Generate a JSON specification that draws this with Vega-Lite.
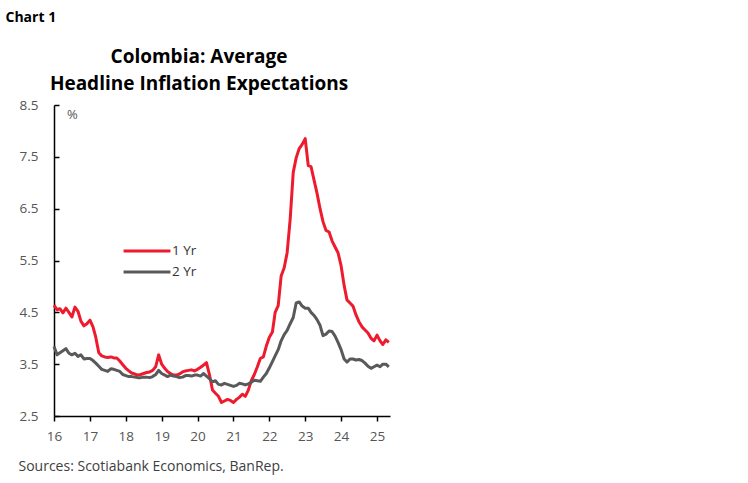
{
  "$schema": "https://vega.github.io/schema/vega-lite/v6.json",
  "autosize": "none",
  "width": 336,
  "height": 311,
  "padding": {"left": 54, "top": 105, "right": 358, "bottom": 67},
  "background": "white",
  "title": {
    "text": ["Colombia: Average", "Headline Inflation Expectations"],
    "anchor": "middle",
    "frame": "group",
    "font": "Open Sans",
    "fontSize": 19,
    "fontWeight": "bold",
    "color": "#000000",
    "lineHeight": 27,
    "offset": 8,
    "dy": 92,
    "dx": -23
  },
  "config": {
    "view": {"stroke": null},
    "axis": {"grid": false, "labelFont": "Open Sans", "labelFontSize": 13.5, "labelColor": "#555555", "domainColor": "#000000", "domainWidth": 1.5, "tickColor": "#000000", "tickWidth": 1.5}
  },
  "data": {
    "values": [
      {"date": "2016-01-01", "1 Yr": 4.64, "2 Yr": 3.84},
      {"date": "2016-02-01", "1 Yr": 4.55, "2 Yr": 3.68},
      {"date": "2016-03-01", "1 Yr": 4.57, "2 Yr": 3.72},
      {"date": "2016-04-01", "1 Yr": 4.49, "2 Yr": 3.76},
      {"date": "2016-05-01", "1 Yr": 4.58, "2 Yr": 3.80},
      {"date": "2016-06-01", "1 Yr": 4.50, "2 Yr": 3.71},
      {"date": "2016-07-01", "1 Yr": 4.41, "2 Yr": 3.68},
      {"date": "2016-08-01", "1 Yr": 4.60, "2 Yr": 3.71},
      {"date": "2016-09-01", "1 Yr": 4.52, "2 Yr": 3.65},
      {"date": "2016-10-01", "1 Yr": 4.33, "2 Yr": 3.68},
      {"date": "2016-11-01", "1 Yr": 4.24, "2 Yr": 3.60},
      {"date": "2016-12-01", "1 Yr": 4.28, "2 Yr": 3.61},
      {"date": "2017-01-01", "1 Yr": 4.35, "2 Yr": 3.61},
      {"date": "2017-02-01", "1 Yr": 4.22, "2 Yr": 3.57},
      {"date": "2017-03-01", "1 Yr": 4.02, "2 Yr": 3.52},
      {"date": "2017-04-01", "1 Yr": 3.72, "2 Yr": 3.46},
      {"date": "2017-05-01", "1 Yr": 3.66, "2 Yr": 3.40},
      {"date": "2017-06-01", "1 Yr": 3.64, "2 Yr": 3.38},
      {"date": "2017-07-01", "1 Yr": 3.63, "2 Yr": 3.36},
      {"date": "2017-08-01", "1 Yr": 3.64, "2 Yr": 3.41},
      {"date": "2017-09-01", "1 Yr": 3.62, "2 Yr": 3.40},
      {"date": "2017-10-01", "1 Yr": 3.62, "2 Yr": 3.38},
      {"date": "2017-11-01", "1 Yr": 3.56, "2 Yr": 3.36},
      {"date": "2017-12-01", "1 Yr": 3.49, "2 Yr": 3.30},
      {"date": "2018-01-01", "1 Yr": 3.42, "2 Yr": 3.28},
      {"date": "2018-02-01", "1 Yr": 3.37, "2 Yr": 3.26},
      {"date": "2018-03-01", "1 Yr": 3.33, "2 Yr": 3.26},
      {"date": "2018-04-01", "1 Yr": 3.31, "2 Yr": 3.25},
      {"date": "2018-05-01", "1 Yr": 3.29, "2 Yr": 3.24},
      {"date": "2018-06-01", "1 Yr": 3.30, "2 Yr": 3.24},
      {"date": "2018-07-01", "1 Yr": 3.32, "2 Yr": 3.25},
      {"date": "2018-08-01", "1 Yr": 3.34, "2 Yr": 3.25},
      {"date": "2018-09-01", "1 Yr": 3.35, "2 Yr": 3.24},
      {"date": "2018-10-01", "1 Yr": 3.38, "2 Yr": 3.26},
      {"date": "2018-11-01", "1 Yr": 3.45, "2 Yr": 3.30},
      {"date": "2018-12-01", "1 Yr": 3.68, "2 Yr": 3.38},
      {"date": "2019-01-01", "1 Yr": 3.50, "2 Yr": 3.32},
      {"date": "2019-02-01", "1 Yr": 3.42, "2 Yr": 3.29},
      {"date": "2019-03-01", "1 Yr": 3.36, "2 Yr": 3.26},
      {"date": "2019-04-01", "1 Yr": 3.32, "2 Yr": 3.29},
      {"date": "2019-05-01", "1 Yr": 3.29, "2 Yr": 3.27},
      {"date": "2019-06-01", "1 Yr": 3.29, "2 Yr": 3.26},
      {"date": "2019-07-01", "1 Yr": 3.31, "2 Yr": 3.24},
      {"date": "2019-08-01", "1 Yr": 3.35, "2 Yr": 3.25},
      {"date": "2019-09-01", "1 Yr": 3.37, "2 Yr": 3.28},
      {"date": "2019-10-01", "1 Yr": 3.38, "2 Yr": 3.28},
      {"date": "2019-11-01", "1 Yr": 3.39, "2 Yr": 3.27},
      {"date": "2019-12-01", "1 Yr": 3.37, "2 Yr": 3.29},
      {"date": "2020-01-01", "1 Yr": 3.40, "2 Yr": 3.29},
      {"date": "2020-02-01", "1 Yr": 3.44, "2 Yr": 3.27},
      {"date": "2020-03-01", "1 Yr": 3.48, "2 Yr": 3.32},
      {"date": "2020-04-01", "1 Yr": 3.53, "2 Yr": 3.27},
      {"date": "2020-05-01", "1 Yr": 3.30, "2 Yr": 3.22},
      {"date": "2020-06-01", "1 Yr": 3.00, "2 Yr": 3.16},
      {"date": "2020-07-01", "1 Yr": 2.94, "2 Yr": 3.18},
      {"date": "2020-08-01", "1 Yr": 2.88, "2 Yr": 3.11},
      {"date": "2020-09-01", "1 Yr": 2.76, "2 Yr": 3.10},
      {"date": "2020-10-01", "1 Yr": 2.79, "2 Yr": 3.13},
      {"date": "2020-11-01", "1 Yr": 2.82, "2 Yr": 3.11},
      {"date": "2020-12-01", "1 Yr": 2.80, "2 Yr": 3.09},
      {"date": "2021-01-01", "1 Yr": 2.76, "2 Yr": 3.07},
      {"date": "2021-02-01", "1 Yr": 2.82, "2 Yr": 3.09},
      {"date": "2021-03-01", "1 Yr": 2.86, "2 Yr": 3.13},
      {"date": "2021-04-01", "1 Yr": 2.92, "2 Yr": 3.12},
      {"date": "2021-05-01", "1 Yr": 2.88, "2 Yr": 3.10},
      {"date": "2021-06-01", "1 Yr": 3.00, "2 Yr": 3.12},
      {"date": "2021-07-01", "1 Yr": 3.18, "2 Yr": 3.15},
      {"date": "2021-08-01", "1 Yr": 3.30, "2 Yr": 3.19},
      {"date": "2021-09-01", "1 Yr": 3.45, "2 Yr": 3.18},
      {"date": "2021-10-01", "1 Yr": 3.61, "2 Yr": 3.17},
      {"date": "2021-11-01", "1 Yr": 3.64, "2 Yr": 3.25},
      {"date": "2021-12-01", "1 Yr": 3.85, "2 Yr": 3.32},
      {"date": "2022-01-01", "1 Yr": 4.02, "2 Yr": 3.43},
      {"date": "2022-02-01", "1 Yr": 4.12, "2 Yr": 3.55},
      {"date": "2022-03-01", "1 Yr": 4.50, "2 Yr": 3.66},
      {"date": "2022-04-01", "1 Yr": 4.63, "2 Yr": 3.78},
      {"date": "2022-05-01", "1 Yr": 5.20, "2 Yr": 3.95},
      {"date": "2022-06-01", "1 Yr": 5.36, "2 Yr": 4.07},
      {"date": "2022-07-01", "1 Yr": 5.65, "2 Yr": 4.15},
      {"date": "2022-08-01", "1 Yr": 6.30, "2 Yr": 4.28},
      {"date": "2022-09-01", "1 Yr": 7.20, "2 Yr": 4.40},
      {"date": "2022-10-01", "1 Yr": 7.48, "2 Yr": 4.68},
      {"date": "2022-11-01", "1 Yr": 7.66, "2 Yr": 4.70},
      {"date": "2022-12-01", "1 Yr": 7.74, "2 Yr": 4.62},
      {"date": "2023-01-01", "1 Yr": 7.85, "2 Yr": 4.58},
      {"date": "2023-02-01", "1 Yr": 7.33, "2 Yr": 4.58},
      {"date": "2023-03-01", "1 Yr": 7.31, "2 Yr": 4.50},
      {"date": "2023-04-01", "1 Yr": 7.05, "2 Yr": 4.44},
      {"date": "2023-05-01", "1 Yr": 6.80, "2 Yr": 4.36},
      {"date": "2023-06-01", "1 Yr": 6.50, "2 Yr": 4.25},
      {"date": "2023-07-01", "1 Yr": 6.25, "2 Yr": 4.05},
      {"date": "2023-08-01", "1 Yr": 6.08, "2 Yr": 4.08},
      {"date": "2023-09-01", "1 Yr": 6.05, "2 Yr": 4.14},
      {"date": "2023-10-01", "1 Yr": 5.88, "2 Yr": 4.13},
      {"date": "2023-11-01", "1 Yr": 5.76, "2 Yr": 4.04},
      {"date": "2023-12-01", "1 Yr": 5.65, "2 Yr": 3.92},
      {"date": "2024-01-01", "1 Yr": 5.40, "2 Yr": 3.78},
      {"date": "2024-02-01", "1 Yr": 5.02, "2 Yr": 3.60},
      {"date": "2024-03-01", "1 Yr": 4.74, "2 Yr": 3.54},
      {"date": "2024-04-01", "1 Yr": 4.68, "2 Yr": 3.60},
      {"date": "2024-05-01", "1 Yr": 4.62, "2 Yr": 3.60},
      {"date": "2024-06-01", "1 Yr": 4.45, "2 Yr": 3.58},
      {"date": "2024-07-01", "1 Yr": 4.32, "2 Yr": 3.59},
      {"date": "2024-08-01", "1 Yr": 4.22, "2 Yr": 3.57},
      {"date": "2024-09-01", "1 Yr": 4.16, "2 Yr": 3.52},
      {"date": "2024-10-01", "1 Yr": 4.10, "2 Yr": 3.46},
      {"date": "2024-11-01", "1 Yr": 4.00, "2 Yr": 3.42},
      {"date": "2024-12-01", "1 Yr": 3.95, "2 Yr": 3.45},
      {"date": "2025-01-01", "1 Yr": 4.06, "2 Yr": 3.48},
      {"date": "2025-02-01", "1 Yr": 3.95, "2 Yr": 3.45},
      {"date": "2025-03-01", "1 Yr": 3.88, "2 Yr": 3.50},
      {"date": "2025-04-01", "1 Yr": 3.97, "2 Yr": 3.50},
      {"date": "2025-05-01", "1 Yr": 3.92, "2 Yr": 3.45}
    ]
  },
  "layer": [
    {
      "transform": [{"fold": ["1 Yr", "2 Yr"], "as": ["series", "value"]}],
      "mark": {"type": "line", "strokeWidth": 3, "strokeJoin": "round"},
      "encoding": {
        "x": {
          "field": "date",
          "type": "temporal",
          "scale": {"domain": [{"year": 2016, "month": 1, "date": 1}, {"year": 2025, "month": 5, "date": 13}]},
          "axis": {
            "values": [
              {"year": 2016}, {"year": 2017}, {"year": 2018}, {"year": 2019}, {"year": 2020},
              {"year": 2021}, {"year": 2022}, {"year": 2023}, {"year": 2024}, {"year": 2025}
            ],
            "format": "%y",
            "tickSize": 5,
            "labelPadding": 8,
            "labelAlign": "center",
            "title": "Sources: Scotiabank Economics, BanRep.",
            "titleFont": "Open Sans",
            "titleFontSize": 14,
            "titleFontWeight": "normal",
            "titleColor": "#404040",
            "titleAnchor": "start",
            "titleAlign": "left",
            "titleBaseline": "alphabetic",
            "titleX": -36,
            "titleY": 54
          }
        },
        "y": {
          "field": "value",
          "type": "quantitative",
          "scale": {"domain": [2.5, 8.5], "zero": false, "nice": false},
          "axis": {
            "values": [2.5, 3.5, 4.5, 5.5, 6.5, 7.5, 8.5],
            "format": ".1f",
            "tickSize": -5,
            "labelPadding": 21,
            "title": "Chart 1",
            "titleFont": "Open Sans",
            "titleFontSize": 14,
            "titleFontWeight": "bold",
            "titleColor": "#000000",
            "titleAngle": 0,
            "titleAlign": "left",
            "titleBaseline": "alphabetic",
            "titleX": -49,
            "titleY": -84
          }
        },
        "color": {
          "field": "series",
          "type": "nominal",
          "scale": {"domain": ["1 Yr", "2 Yr"], "range": ["#EE1B2E", "#595959"]},
          "legend": {
            "orient": "none",
            "legendX": 68,
            "legendY": 139,
            "title": null,
            "symbolType": "stroke",
            "symbolSize": 2200,
            "symbolStrokeWidth": 3,
            "clipHeight": 14,
            "labelFont": "Open Sans",
            "labelFontSize": 13.5,
            "labelColor": "#333333",
            "labelOffset": 0,
            "rowPadding": 7
          }
        }
      }
    },
    {
      "data": {"values": [{"label": "%"}]},
      "mark": {"type": "text", "font": "Open Sans", "fontSize": 13, "color": "#555555", "align": "left", "baseline": "middle"},
      "encoding": {
        "x": {
          "datum": {"year": 2016, "month": 5, "date": 12},
          "type": "temporal",
          "axis": {
            "values": [
              {"year": 2016}, {"year": 2017}, {"year": 2018}, {"year": 2019}, {"year": 2020},
              {"year": 2021}, {"year": 2022}, {"year": 2023}, {"year": 2024}, {"year": 2025}
            ],
            "format": "%y",
            "tickSize": 5,
            "labelPadding": 8,
            "labelAlign": "center",
            "title": "Sources: Scotiabank Economics, BanRep.",
            "titleFont": "Open Sans",
            "titleFontSize": 14,
            "titleFontWeight": "normal",
            "titleColor": "#404040",
            "titleAnchor": "start",
            "titleAlign": "left",
            "titleBaseline": "alphabetic",
            "titleX": -36,
            "titleY": 54
          }
        },
        "y": {
          "datum": 8.31,
          "type": "quantitative",
          "axis": {
            "values": [2.5, 3.5, 4.5, 5.5, 6.5, 7.5, 8.5],
            "format": ".1f",
            "tickSize": -5,
            "labelPadding": 21,
            "title": "Chart 1",
            "titleFont": "Open Sans",
            "titleFontSize": 14,
            "titleFontWeight": "bold",
            "titleColor": "#000000",
            "titleAngle": 0,
            "titleAlign": "left",
            "titleBaseline": "alphabetic",
            "titleX": -49,
            "titleY": -84
          }
        },
        "text": {"field": "label"}
      }
    }
  ]
}
